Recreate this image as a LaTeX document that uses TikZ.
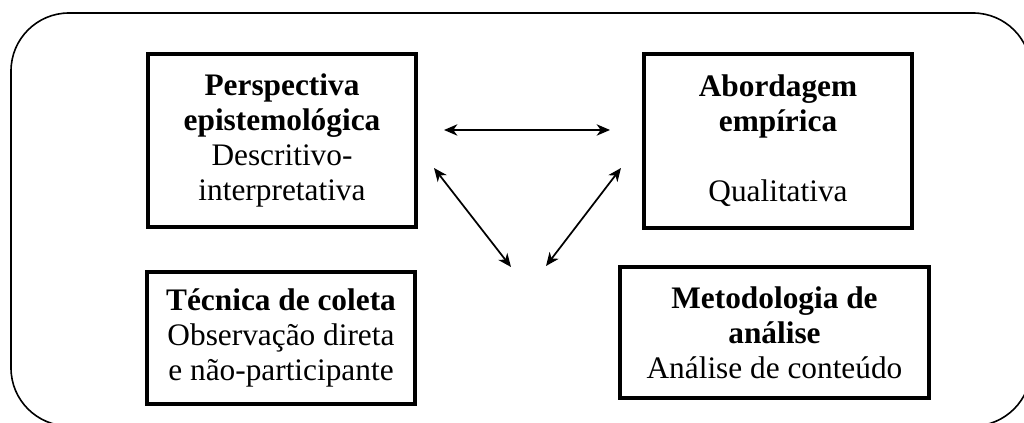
\documentclass[tikz,border=0pt]{standalone}
\usepackage{fontspec}
\setmainfont{Liberation Serif}
\usetikzlibrary{arrows.meta}

\tikzset{
  caixa/.style 2 args={draw, line width=3pt, align=center, inner sep=0pt,
    minimum width=#1, minimum height=#2,
    font=\fontsize{23.5pt}{26.25pt}\selectfont},
  seta/.style={line width=1.3pt, {Stealth[length=10pt,width=8.5pt,inset=3pt]}-{Stealth[length=10pt,width=8.5pt,inset=3pt]}}
}

\begin{document}
\begin{tikzpicture}[x=0.75pt, y=-0.75pt]
  \useasboundingbox (0,0) rectangle (1024,423);
  \clip (0,0) rectangle (1024,423);
  % moldura externa
  \draw[line width=1.2pt, rounded corners=43.5pt] (11,13) rectangle (1031,426);

  % caixas
  \node[caixa={201pt}{129.75pt}] (persp) at (282,140.5)
    {\textbf{Perspectiva}\\ \textbf{epistemológica}\\ Descritivo-\\ interpretativa};
  \node[caixa={201pt}{130.5pt}] (abord) at (778,141)
    {\textbf{Abordagem}\\ \textbf{empírica}\\ ~\\ Qualitativa};
  \node[caixa={201pt}{99pt}] (tecnica) at (281,338)
    {\textbf{Técnica de coleta}\\ Observação direta\\ e não-participante};
  \node[caixa={231.75pt}{98.25pt}] (metodo) at (774.5,332.5)
    {\textbf{Metodologia de}\\ \textbf{análise}\\ Análise de conteúdo};

  % setas
  \coordinate (meio) at (528.5,266.5);
  \draw[seta] ([shift={(26,-10.5)}]persp.east) -- ([shift={(-32,-11)}]abord.west);
  \draw[seta] ([shift={(16,27.5)}]persp.east) -- ([shift={(-17.5,0.5)}]meio);
  \draw[seta] ([shift={(-21,27)}]abord.west) -- ([shift={(17.5,-0.5)}]meio);
\end{tikzpicture}
\end{document}
